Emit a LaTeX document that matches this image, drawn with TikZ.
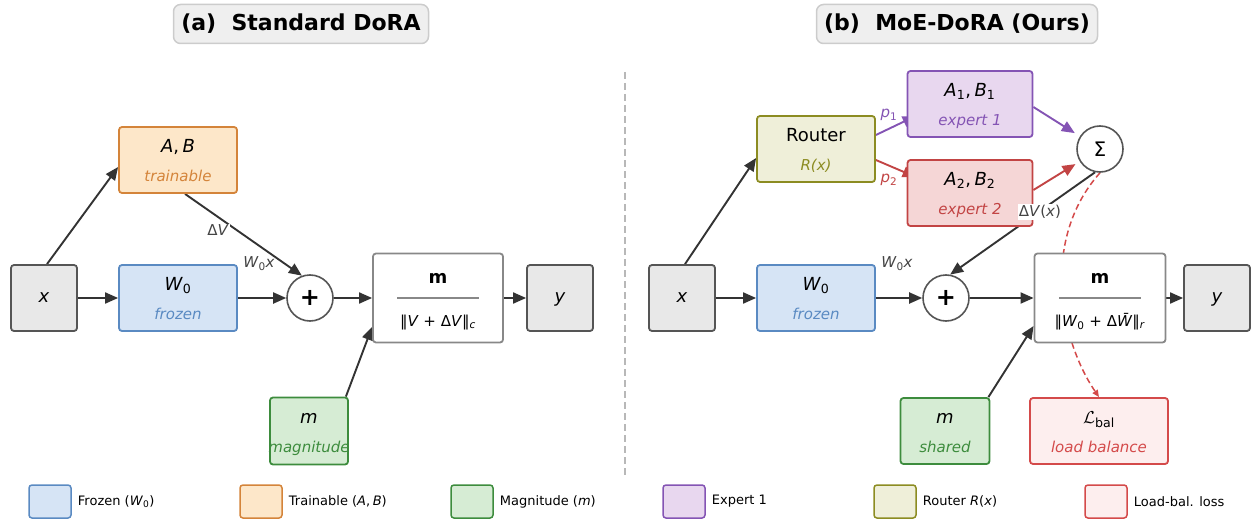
\documentclass[tikz,border=0pt]{standalone}
\usepackage{fontspec}
\setmainfont{DejaVu Sans}
\usetikzlibrary{arrows.meta,calc}
\pgfdeclarelayer{bg}
\pgfsetlayers{bg,main}
\definecolor{fgray}{HTML}{E8E8E8}\definecolor{cgray}{HTML}{555555}
\definecolor{fblue}{HTML}{D6E4F5}\definecolor{cblue}{HTML}{5A8AC2}
\definecolor{forange}{HTML}{FDE7C9}\definecolor{corange}{HTML}{D4843A}
\definecolor{fgreen}{HTML}{D6ECD4}\definecolor{cgreen}{HTML}{3D8C3D}
\definecolor{fpurple}{HTML}{E8D7EF}\definecolor{cpurple}{HTML}{8454B4}
\definecolor{folive}{HTML}{EFEFD9}\definecolor{colive}{HTML}{8C8C22}
\definecolor{fred}{HTML}{F5D6D6}\definecolor{cred}{HTML}{C24444}
\definecolor{flbal}{HTML}{FDEEEE}\definecolor{clbal}{HTML}{D44A4A}
\definecolor{cnorm}{HTML}{888888}\definecolor{carrow}{HTML}{333333}
\definecolor{ctext}{HTML}{444444}\definecolor{ftitle}{HTML}{EFEFEF}\definecolor{ctitle}{HTML}{CCCCCC}
\begin{document}
\begin{tikzpicture}[x=1pt,y=-1pt,
  box/.style={draw, rounded corners=3pt, line width=1.8pt, inner sep=0pt},
  gbox/.style={box, draw=cgray, fill=fgray, minimum width=66pt, minimum height=66pt},
  wbox/.style={box, minimum width=118pt, minimum height=66pt},
  normbox/.style={box, draw=cnorm, fill=white, minimum width=130pt, minimum height=89pt},
  circ/.style={circle, draw=cgray, fill=white, line width=1.6pt, minimum size=46pt, inner sep=0pt},
  mainlbl/.style={font=\fontsize{18}{20}\selectfont, text height=13pt, text depth=4pt, inner sep=0pt},
  sublbl/.style={font=\fontsize{15}{17}\selectfont\itshape, text height=11pt, text depth=3.5pt, inner sep=0pt},
  edgelbl/.style={font=\fontsize{15}{17}\selectfont, text=ctext, inner sep=1pt},
  titlebox/.style={draw=ctitle, fill=ftitle, line width=1.5pt, rounded corners=7pt, minimum height=39pt, font=\fontsize{22}{24}\selectfont\bfseries},
  arr/.style={draw=carrow, line width=1.9pt, -{Triangle[length=13pt,width=11pt]}},
  legbox/.style={box, line width=1.5pt, minimum width=42pt, minimum height=33pt},
  legtxt/.style={anchor=west, font=\fontsize{13}{15}\selectfont, inner sep=0pt}
]
\useasboundingbox (0,0) rectangle (1254,519);

% titles
\node[titlebox, minimum width=255pt] (ta) at (301,24) {(a)\ \ Standard DoRA};
\node[titlebox, minimum width=281pt] (tb) at (957,24) {(b)\ \ MoE-DoRA (Ours)};

% divider
\draw[draw=ctitle!90!black, line width=1.5pt, dash pattern=on 7pt off 4pt] (625,72) -- (625,475);

% ---------- panel (a) ----------
\node[gbox] (xa) at (44,298) {};
\node[mainlbl] (xat) at (xa.center) {\textit{x}};
\node[wbox, draw=cblue, fill=fblue] (w0a) at (178,298) {};
\node[mainlbl] (w0at) at ([yshift=12pt]w0a.center) {\textit{W}\textsubscript{0}};
\node[sublbl, text=cblue] (w0as) at ([yshift=-18pt]w0a.center) {frozen};
\node[wbox, draw=corange, fill=forange] (aba) at (178,160) {};
\node[mainlbl] (abat) at ([yshift=12pt]aba.center) {\textit{A},\hspace{0.2em}\textit{B}};
\node[sublbl, text=corange] (abas) at ([yshift=-18pt]aba.center) {trainable};
\node[circ] (plusa) at (310,298) {\fontsize{24}{24}\selectfont\bfseries +};
\node[normbox] (norma) at (438,298) {};
\node[mainlbl, font=\fontsize{18}{20}\selectfont\bfseries] (normat) at ([yshift=19pt]norma.center) {m};
\draw[draw=cnorm, line width=1.5pt] ([xshift=-41pt]norma.center) -- ([xshift=41pt]norma.center);
\node[sublbl, font=\fontsize{15}{17}\selectfont] (normab) at ([yshift=-25pt]norma.center) {‖\textit{V} + Δ\textit{V}‖\textsubscript{\textit{c}}};
\node[gbox] (ya) at (560,298) {};
\node[mainlbl] (yat) at (ya.center) {\textit{y}};
\node[box, draw=cgreen, fill=fgreen, minimum width=78pt, minimum height=67pt] (maga) at (309,431) {};
\node[mainlbl] (magat) at ([yshift=12pt]maga.center) {\textit{m}};
\node[sublbl, text=cgreen] (magas) at ([yshift=-18pt]maga.center) {magnitude};

% ---------- panel (b) ----------
\node[gbox] (xb) at (682,298) {};
\node[mainlbl] (xbt) at (xb.center) {\textit{x}};
\node[wbox, draw=cblue, fill=fblue] (w0b) at (816,298) {};
\node[mainlbl] (w0bt) at ([yshift=12pt]w0b.center) {\textit{W}\textsubscript{0}};
\node[sublbl, text=cblue] (w0bs) at ([yshift=-18pt]w0b.center) {frozen};
\node[circ] (plusb) at (946,298) {\fontsize{24}{24}\selectfont\bfseries +};
\node[normbox, minimum width=131pt] (normb) at (1100,298) {};
\node[mainlbl, font=\fontsize{18}{20}\selectfont\bfseries] (normbt) at ([yshift=19pt]normb.center) {m};
\draw[draw=cnorm, line width=1.5pt] ([xshift=-41pt]normb.center) -- ([xshift=41pt]normb.center);
\node[sublbl, font=\fontsize{15}{17}\selectfont] (normbb) at ([yshift=-25pt]normb.center) {‖\textit{W}\textsubscript{0} + Δ\textit{\={W}}‖\textsubscript{\textit{r}}};
\node[gbox] (yb) at (1217,298) {};
\node[mainlbl] (ybt) at (yb.center) {\textit{y}};
\node[wbox, draw=colive, fill=folive] (router) at (816,149) {};
\node[mainlbl] (routert) at ([yshift=12pt]router.center) {Router};
\node[sublbl, text=colive] (routers) at ([yshift=-18pt]router.center) {\textit{R}(\textit{x})};
\node[box, draw=cpurple, fill=fpurple, minimum width=125pt, minimum height=66pt] (e1) at (970,104) {};
\node[mainlbl] (e1t) at ([yshift=12pt]e1.center) {\textit{A}\textsubscript{1},\hspace{0.2em}\textit{B}\textsubscript{1}};
\node[sublbl, text=cpurple] (e1s) at ([yshift=-18pt]e1.center) {expert 1};
\node[box, draw=cred, fill=fred, minimum width=125pt, minimum height=66pt] (e2) at (970,193) {};
\node[mainlbl] (e2t) at ([yshift=12pt]e2.center) {\textit{A}\textsubscript{2},\hspace{0.2em}\textit{B}\textsubscript{2}};
\node[sublbl, text=cred] (e2s) at ([yshift=-18pt]e2.center) {expert 2};
\node[circ] (sig) at (1100,149) {\fontsize{20}{20}\selectfont Σ};
\node[box, draw=cgreen, fill=fgreen, minimum width=89pt, minimum height=66pt] (magb) at (945,431) {};
\node[mainlbl] (magbt) at ([yshift=12pt]magb.center) {\textit{m}};
\node[sublbl, text=cgreen] (magbs) at ([yshift=-18pt]magb.center) {shared};
\node[box, draw=clbal, fill=flbal, minimum width=138pt, minimum height=66pt] (lbal) at (1099,431) {};
\node[mainlbl] (lbalt) at ([yshift=12pt]lbal.center) {$\mathcal{L}$\textsubscript{bal}};
\node[sublbl, text=clbal] (lbals) at ([yshift=-18pt]lbal.center) {load balance};

% ---------- connectors ----------
\begin{pgfonlayer}{bg}
\draw[arr] (xa.east) -- (w0a.west);
\draw[arr] (w0a.east) -- (plusa.west);
\draw[arr] (plusa.east) -- (norma.west);
\draw[arr] (norma.east) -- (ya.west);
\draw[arr] ([xshift=3pt]xa.north) -- ([yshift=-7pt]aba.west);
\draw[arr] ([xshift=7pt]aba.south) -- (plusa.110);
\draw[arr] ([xshift=-3pt]maga.north east) -- ([yshift=-29pt]norma.west);

\draw[arr] (xb.east) -- (w0b.west);
\draw[arr] (w0b.east) -- (plusb.west);
\draw[arr] (plusb.east) -- (normb.west);
\draw[arr] (normb.east) -- (yb.west);
\draw[arr] ([xshift=3pt]xb.north) -- ([yshift=-9pt]router.west);
\draw[arr, draw=cpurple] ([yshift=14pt]router.east) -- ([xshift=9pt,yshift=-12pt]e1.west);
\draw[arr, draw=cred] ([yshift=-11pt]router.east) -- ([xshift=9pt,yshift=16pt]e2.west);
\draw[arr, draw=cpurple, shorten >=6pt] ([yshift=-3pt]e1.east) -- (sig);
\draw[arr, draw=cred, shorten >=5pt] ([yshift=3pt]e2.east) -- (sig);
\draw[arr] (sig.258) -- (plusb.80);
\draw[arr] ([xshift=-2pt]magb.north east) -- ([yshift=-28pt]normb.west);
\draw[draw=clbal, line width=1.5pt, dash pattern=on 6pt off 3.5pt, -{Triangle[length=7pt,width=6pt]}]
  (sig.south) .. controls (1040,240) and (1060,340) .. (lbal.north);
\end{pgfonlayer}

% edge labels
\node[edgelbl, fill=white] (dva) at (218,230) {Δ\textit{V}};
\node[edgelbl] (w0xa) at (259,264) {\textit{W}\textsubscript{0}\textit{x}};
\node[edgelbl] (w0xb) at (897,264) {\textit{W}\textsubscript{0}\textit{x}};
\node[edgelbl, fill=white] (dvx) at (1040,212) {Δ\textit{V}(\textit{x})};
\node[edgelbl, fill=white, text=cpurple] (p1) at (889,115) {\textit{p}\textsubscript{1}};
\node[edgelbl, fill=white, text=cred] (p2) at (889,180) {\textit{p}\textsubscript{2}};

% ---------- legend ----------
\node[legbox, draw=cblue, fill=fblue] (l1) at (50,501.5) {};
\node[legtxt] (l1t) at ([xshift=6pt]l1.east) {Frozen (\textit{W}\textsubscript{0})};
\node[legbox, draw=corange, fill=forange] (l2) at (261,501.5) {};
\node[legtxt] (l2t) at ([xshift=6pt]l2.east) {Trainable (\textit{A},\hspace{0.2em}\textit{B})};
\node[legbox, draw=cgreen, fill=fgreen] (l3) at (472,501.5) {};
\node[legtxt] (l3t) at ([xshift=6pt]l3.east) {Magnitude (\textit{m})};
\node[legbox, draw=cpurple, fill=fpurple] (l4) at (684,501.5) {};
\node[legtxt] (l4t) at ([xshift=6pt]l4.east) {Expert 1};
\node[legbox, draw=colive, fill=folive] (l5) at (895,501.5) {};
\node[legtxt] (l5t) at ([xshift=6pt]l5.east) {Router \textit{R}(\textit{x})};
\node[legbox, draw=clbal, fill=flbal] (l6) at (1106,501.5) {};
\node[legtxt] (l6t) at ([xshift=6pt]l6.east) {Load-bal. loss};
\end{tikzpicture}
\end{document}
